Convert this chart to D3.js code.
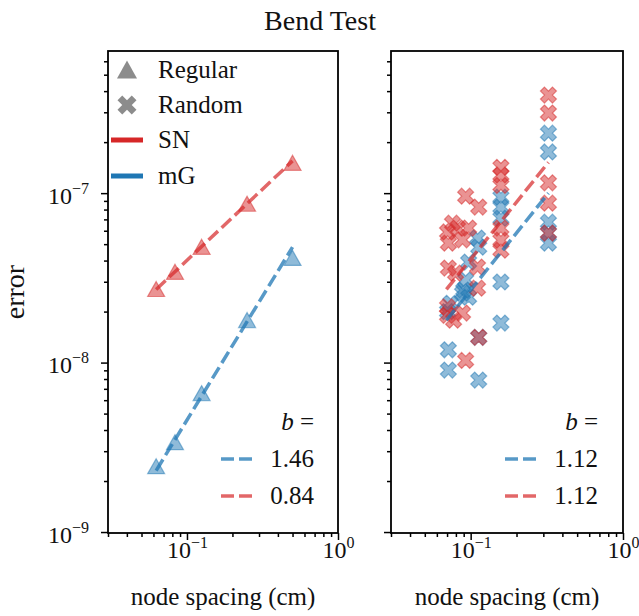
<!DOCTYPE html>
<html><head><meta charset="utf-8">
<script src="https://cdn.jsdelivr.net/npm/d3@7"></script>
<style>body{margin:0;background:#fff}svg{display:block}text{font-family:"Liberation Serif",serif;fill:#111}</style>
</head><body><svg id="c" width="639" height="616"></svg>
<script>
// ---------------- data ----------------
const title = "Bend Test";
const xLabel = "node spacing (cm)";
const yLabel = "error";
const xDomain = [0.03, 1];
const yDomain = [9.87e-10, 6.9e-7];
const xMajorTicks = [0.1, 1];
const yMajorTicks = [1e-9, 1e-8, 1e-7];
const xTickExp = ["−1", "0"];
const yTickExp = ["−9", "−8", "−7"];

// Regular grid (left panel)
const regX = [0.0625, 0.0833, 0.125, 0.25, 0.5];
const regSN = [2.7e-8, 3.41e-8, 4.79e-8, 8.6e-8, 1.5e-7];
const regMG = [2.43e-9, 3.37e-9, 6.56e-9, 1.77e-8, 4.12e-8];

// Random (right panel)
const randSNx = [0.076, 0.082, 0.097, 0.0714, 0.0705, 0.0885, 0.0714, 0.0796, 0.0705, 0.0773, 0.0885, 0.0705, 0.0927, 0.0927, 0.113, 0.111, 0.111, 0.113,
                 0.158, 0.158, 0.158, 0.158, 0.158, 0.158, 0.324, 0.324, 0.324, 0.324, 0.324];
const randSNy = [6.65e-8, 6.22e-8, 6.22e-8, 5.07e-8, 5.9e-8, 5.3e-8, 3.61e-8, 3.37e-8, 2.13e-8, 1.78e-8, 1.96e-8, 1.9e-8, 1.03e-8, 9.6e-8, 8.27e-8, 3.66e-8, 2.75e-8, 1.41e-8,
                 1.42e-7, 1.28e-7, 1.11e-7, 6.22e-8, 5.28e-8, 4.61e-8, 3.79e-7, 2.97e-7, 1.15e-7, 8.73e-8, 5.81e-8];
const randMGx = [0.0738, 0.0885, 0.097, 0.0927, 0.09, 0.111, 0.113, 0.0714, 0.0714, 0.113, 0.113, 0.0705, 0.097,
                 0.158, 0.158, 0.158, 0.158, 0.158, 0.324, 0.324, 0.324, 0.324, 0.324];
const randMGy = [2.24e-8, 2.57e-8, 2.43e-8, 3.07e-8, 2.68e-8, 5.43e-8, 4.8e-8, 1.19e-8, 9.03e-9, 7.88e-9, 1.41e-8, 2.0e-8, 3.92e-8,
                 9.47e-8, 8.27e-8, 7.12e-8, 2.99e-8, 1.71e-8, 2.26e-7, 1.75e-7, 6.74e-8, 5.81e-8, 5.07e-8];

// fitted power laws: slope b, x range, value at xEnd
const fitNames = ["mG", "SN"];
const fitLeftB = [1.46, 0.84];
const fitLeftX = [0.0625, 0.5];
const fitLeftYEnd = [4.8e-8, 1.55e-7];
const fitRightB = [1.12, 1.12];
const fitRightX = [0.0693, 0.324];
const fitRightYEnd = [1.0e-7, 1.52e-7];

const RED = "#d62728", BLUE = "#1f77b4", GREY = "#8c8c8c";

// ---------------- drawing ----------------
const svg = d3.select("#c");
const yTop = 51, yBot = 533;
const panels = [{x0: 108, x1: 338}, {x0: 391, x1: 623}];
const y = d3.scaleLog().domain(yDomain).range([yBot, yTop]);

svg.append("text").attr("x", 320).attr("y", 30).attr("text-anchor", "middle")
  .style("font-size", "28px").text(title);
svg.append("text").attr("transform", `translate(24,${(yTop+yBot)/2}) rotate(-90)`)
  .attr("text-anchor", "middle").style("font-size", "28px").text(yLabel);

const triPath = "M0,-8L8.5,7L-8.5,7Z";
const triLegPath = "M0,-9.5L10,8.5L-10,8.5Z";
function xShape(s) {
  const pts = [[-0.25,-0.5],[0,-0.25],[0.25,-0.5],[0.5,-0.25],[0.25,0],[0.5,0.25],[0.25,0.5],[0,0.25],[-0.25,0.5],[-0.5,0.25],[-0.25,0],[-0.5,-0.25]];
  return "M" + pts.map(p => [p[0]*s, p[1]*s].join(",")).join("L") + "Z";
}
const xPath = xShape(16);

function drawAxes(g, x, showYLabels) {
  const xMinor = x.ticks().filter(v => !xMajorTicks.some(m => Math.abs(m - v) / m < 1e-6));
  const yMinor = y.ticks().filter(v => !yMajorTicks.some(m => Math.abs(m - v) / m < 1e-6));
  const ax = g.append("g").attr("transform", `translate(0,${yBot})`)
    .call(d3.axisBottom(x).tickValues(xMinor).tickSize(4).tickFormat(""));
  const axM = g.append("g").attr("transform", `translate(0,${yBot})`)
    .call(d3.axisBottom(x).tickValues(xMajorTicks).tickSize(7).tickPadding(8).tickFormat(""));
  axM.selectAll(".tick text").each(function(d, i) {
    const t = d3.select(this).style("font-size", "24px").attr("dy", "0").attr("y", 25);
    t.append("tspan").text("10");
    t.append("tspan").text(xTickExp[i]).style("font-size", "16px").attr("dy", "-10");
  });
  const ay = g.append("g").attr("transform", `translate(${x.range()[0]},0)`)
    .call(d3.axisLeft(y).tickValues(yMinor).tickSize(4).tickFormat(""));
  const ayM = g.append("g").attr("transform", `translate(${x.range()[0]},0)`)
    .call(d3.axisLeft(y).tickValues(yMajorTicks).tickSize(7).tickPadding(12).tickFormat(""));
  if (showYLabels) {
    ayM.selectAll(".tick text").each(function(d, i) {
      const t = d3.select(this).style("font-size", "24px").attr("dy", "0").attr("y", 10);
      t.append("tspan").text("10");
      t.append("tspan").text(yTickExp[i]).style("font-size", "16px").attr("dy", "-10");
    });
  }
  [ax, axM, ay, ayM].forEach(a => {
    a.select(".domain").remove();
    a.selectAll("line").attr("stroke", "#000").attr("stroke-width", 1.5);
  });
  g.append("rect").attr("x", x.range()[0]).attr("y", yTop)
    .attr("width", x.range()[1] - x.range()[0]).attr("height", yBot - yTop)
    .attr("fill", "none").attr("stroke", "#000").attr("stroke-width", 1.8);
  g.append("text").attr("x", (x.range()[0] + x.range()[1]) / 2).attr("y", 605)
    .attr("text-anchor", "middle").style("font-size", "25px").text(xLabel);
}

function drawFit(g, x, b, xr, yEnd, color, op) {
  const yStart = yEnd * Math.pow(xr[0] / xr[1], b);
  g.append("path").datum([[xr[0], yStart], [xr[1], yEnd]])
    .attr("d", d3.line().x(d => x(d[0])).y(d => y(d[1])))
    .attr("stroke", color).attr("stroke-opacity", op).attr("stroke-width", 3.5)
    .attr("stroke-dasharray", "13,5").attr("fill", "none");
}

function drawMarkers(g, x, xv, yv, path, color) {
  g.selectAll(null).data(xv.map((v, i) => [v, yv[i]])).enter().append("path")
    .attr("d", path).attr("transform", d => `translate(${x(d[0])},${y(d[1])})`)
    .attr("fill", color).attr("fill-opacity", 0.5)
    .attr("stroke", color).attr("stroke-opacity", 0.5).attr("stroke-width", 1.2);
}

function fitLegend(g, xRight, labels) {
  g.append("text").attr("x", xRight).attr("y", 430).attr("text-anchor", "end").style("font-size", "25px")
    .html('<tspan font-style="italic">b</tspan> =');
  const cols = [BLUE, RED], ops = [0.75, 0.7];
  labels.forEach((lab, i) => {
    const yy = 459 + i * 37;
    g.append("line").attr("x1", xRight - 93).attr("x2", xRight - 57).attr("y1", yy).attr("y2", yy)
      .attr("stroke", cols[i]).attr("stroke-opacity", ops[i]).attr("stroke-width", 3.5).attr("stroke-dasharray", "13,5");
    g.append("text").attr("x", xRight).attr("y", yy + 8).attr("text-anchor", "end").style("font-size", "25px").text(lab);
  });
}

// Left panel
{
  const x = d3.scaleLog().domain(xDomain).range([panels[0].x0, panels[0].x1]);
  const g = svg.append("g");
  drawAxes(g, x, true);
  drawMarkers(g, x, regX, regSN, triPath, RED);
  drawMarkers(g, x, regX, regMG, triPath, BLUE);
  drawFit(g, x, fitLeftB[0], fitLeftX, fitLeftYEnd[0], BLUE, 0.75);
  drawFit(g, x, fitLeftB[1], fitLeftX, fitLeftYEnd[1], RED, 0.7);
  fitLegend(g, 314, fitLeftB.map(v => v.toFixed(2)));
  g.append("path").attr("d", triLegPath).attr("transform", "translate(127,70)").attr("fill", GREY);
  g.append("path").attr("d", xShape(19)).attr("transform", "translate(127,105)").attr("fill", GREY);
  g.append("line").attr("x1", 111).attr("x2", 143).attr("y1", 140).attr("y2", 140).attr("stroke", RED).attr("stroke-width", 5);
  g.append("line").attr("x1", 111).attr("x2", 143).attr("y1", 176).attr("y2", 176).attr("stroke", BLUE).attr("stroke-width", 5);
  [["Regular", 78], ["Random", 113], ["SN", 148], ["mG", 184]].forEach(d =>
    g.append("text").attr("x", 158).attr("y", d[1]).style("font-size", "25px").text(d[0]));
}
// Right panel
{
  const x = d3.scaleLog().domain(xDomain).range([panels[1].x0, panels[1].x1]);
  const g = svg.append("g");
  drawAxes(g, x, false);
  drawMarkers(g, x, randMGx, randMGy, xPath, BLUE);
  drawMarkers(g, x, randSNx, randSNy, xPath, RED);
  drawFit(g, x, fitRightB[0], fitRightX, fitRightYEnd[0], BLUE, 0.75);
  drawFit(g, x, fitRightB[1], fitRightX, fitRightYEnd[1], RED, 0.7);
  fitLegend(g, 598, fitRightB.map(v => v.toFixed(2)));
}
</script></body></html>
